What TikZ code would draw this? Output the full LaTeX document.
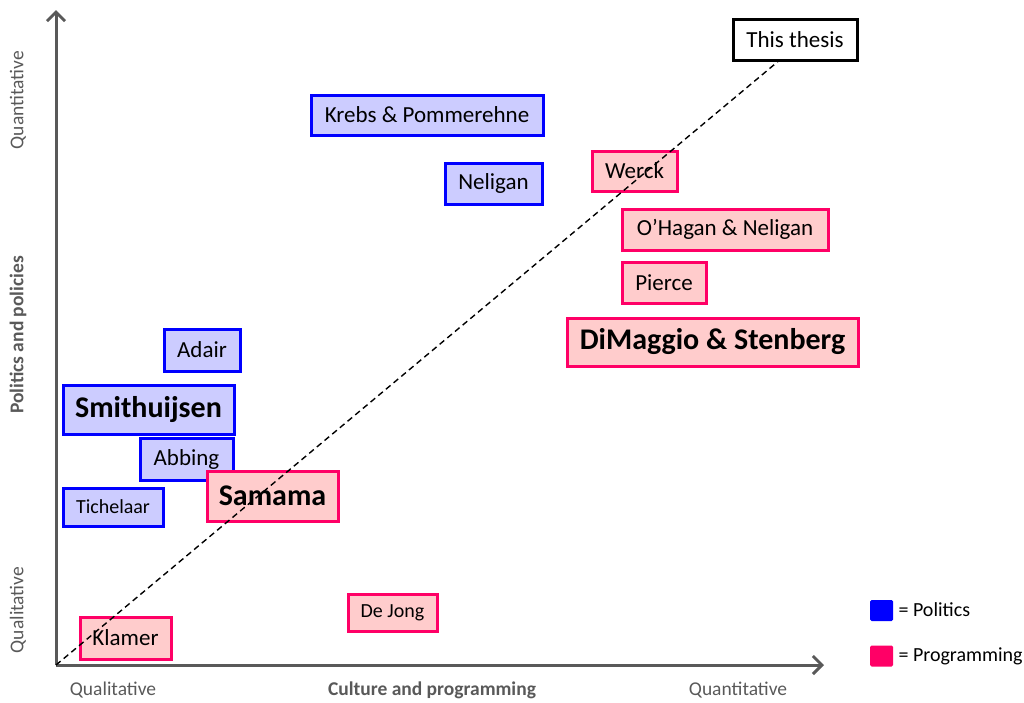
\documentclass[tikz,border=0pt]{standalone}
\usepackage{fontspec}
\setmainfont{Carlito}
\usetikzlibrary{arrows.meta}
\definecolor{polfill}{HTML}{CCCCFF}
\definecolor{poldraw}{HTML}{0000FF}
\definecolor{profill}{HTML}{FFCCCC}
\definecolor{prodraw}{HTML}{FF0066}
\definecolor{axisgray}{HTML}{595959}
\tikzset{
  pol/.style={rectangle, draw=poldraw, fill=polfill, line width=3pt, inner sep=0pt, font=\fontsize{23}{26}\selectfont},
  pro/.style={rectangle, draw=prodraw, fill=profill, line width=3pt, inner sep=0pt, font=\fontsize{23}{26}\selectfont},
  big/.style={font=\fontsize{30}{34}\selectfont\bfseries},
  small/.style={font=\fontsize{20}{23}\selectfont},
  axlab/.style={text=axisgray, font=\fontsize{19.5}{23}\selectfont},
  axis/.style={draw=axisgray, line width=3pt, -{Straight Barb[length=9pt,width=18pt,line width=3pt]}},
  legsq/.style={rectangle, rounded corners=1.5pt, minimum width=23pt, minimum height=21pt, inner sep=0pt}
}
\begin{document}
\begin{tikzpicture}[x=1pt,y=-1pt]
\useasboundingbox (0,0) rectangle (1024,702);
\coordinate (o) at (56,665);
\coordinate (ytop) at (56,10);
\coordinate (xend) at (824,665);
\draw[axis] (o) -- (ytop);
\draw[axis] (o) -- (xend);

% axis labels
\node[axlab, rotate=90] (yq) at (18,100) {Quantitative};
\node[axlab, rotate=90, font=\fontsize{19.5}{23}\selectfont\bfseries] (yt) at (18,335) {Politics and policies};
\node[axlab, rotate=90] (yl) at (18,610) {Qualitative};
\node[axlab] (xl) at (113,690) {Qualitative};
\node[axlab, font=\fontsize{19.5}{23}\selectfont\bfseries] (xt) at (432,690) {Culture and programming};
\node[axlab] (xq) at (738,690) {Quantitative};

% boxes
\node[pol, minimum width=232pt, minimum height=40pt] (krebs) at (427,115) {Krebs \& Pommerehne};
\node[pol, minimum width=97pt, minimum height=41pt] (neligan) at (493.5,183.5) {Neligan};
\node[pol, minimum width=76pt, minimum height=42pt] (adair) at (202,350) {Adair};
\node[pol, big, minimum width=171pt, minimum height=49pt] (smit) at (148.5,409.5) {Smithuijsen};
\node[pol, minimum width=93pt, minimum height=42pt] (abbing) at (186.5,459) {Abbing};
\node[pol, small, minimum width=100pt, minimum height=38pt] (tich) at (113,507) {Tichelaar};

\node[pro, minimum width=85pt, minimum height=40pt] (werck) at (634.5,171) {Werck};
\node[pro, minimum width=206pt, minimum height=41pt] (ohagan) at (725,229.5) {O’Hagan \& Neligan};
\node[pro, minimum width=84pt, minimum height=41pt] (pierce) at (664,282.5) {Pierce};
\node[pro, big, minimum width=291pt, minimum height=48pt] (dimag) at (712.5,342) {DiMaggio \& Stenberg};
\node[pro, big, minimum width=131pt, minimum height=50pt] (samama) at (272.5,496) {Samama};
\node[pro, small, minimum width=89pt, minimum height=37pt] (dejong) at (392.5,612.5) {De Jong};
\node[pro, minimum width=91pt, minimum height=42pt] (klamer) at (125.5,638) {Klamer};

\node[rectangle, draw=black, fill=white, line width=3pt, inner sep=0pt, minimum width=124pt, minimum height=41pt, font=\fontsize{23}{26}\selectfont] (thesis) at (795,39.5) {This thesis};

% dashed diagonal
\draw[black, line width=1.4pt, dash pattern=on 6pt off 4pt] (o) -- (thesis.south -| 778,0);

% legend
\node[legsq, fill=poldraw] (lp) at (881.5,610.5) {};
\node[anchor=west, font=\fontsize{20}{23}\selectfont] (lpt) at (895,610) {= Politics};
\node[legsq, fill=prodraw] (lr) at (881.5,656) {};
\node[anchor=west, font=\fontsize{20}{23}\selectfont] (lrt) at (895,656) {= Programming};
\end{tikzpicture}
\end{document}
